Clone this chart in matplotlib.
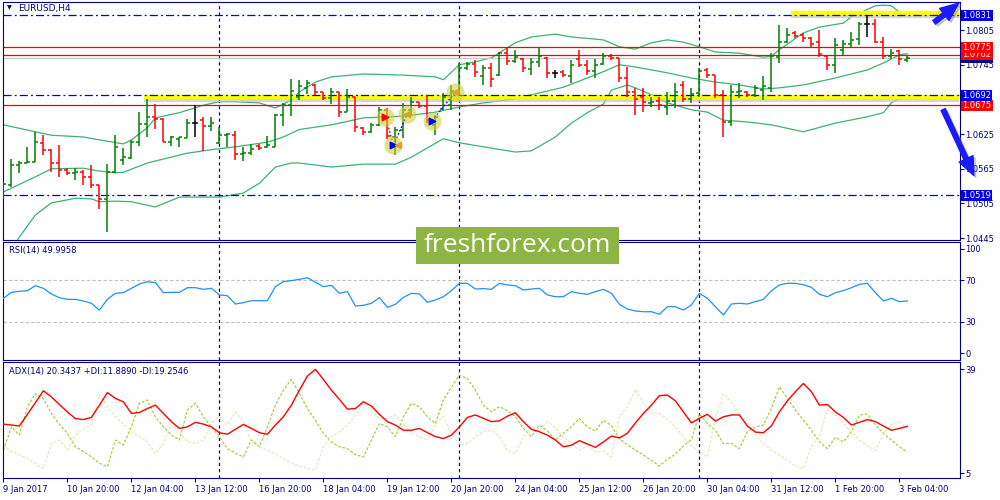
import matplotlib
matplotlib.use('Agg')
import matplotlib.pyplot as plt
from matplotlib.patches import Rectangle, FancyArrowPatch
import numpy as np

plt.rcParams['font.family'] = ['DejaVu Sans']

NAVY = '#000080'
UP = '#008000'
DOWN = '#ff0000'
BAND = '#3cb371'

# EURUSD H4, 9 Jan 12:00 .. 3 Feb 08:00 (114 bars)
opens = np.array([
    1.0520, 1.0537, 1.0572, 1.0575, 1.0577, 1.0610, 1.0597, 1.0575, 1.0563, 1.0558,
    1.0560, 1.0551, 1.0537, 1.0513, 1.0560, 1.0581, 1.0584, 1.0611, 1.0642, 1.0655,
    1.0651, 1.0611, 1.0617, 1.0618, 1.0644, 1.0650, 1.0639, 1.0610, 1.0623, 1.0623,
    1.0591, 1.0592, 1.0604, 1.0603, 1.0603, 1.0658, 1.0675, 1.0690, 1.0705, 1.0710,
    1.0697, 1.0688, 1.0697, 1.0664, 1.0690, 1.0636, 1.0628, 1.0640, 1.0667, 1.0620,
    1.0632, 1.0667, 1.0680, 1.0673, 1.0640, 1.0668, 1.0675, 1.0700, 1.0740, 1.0746,
    1.0725, 1.0740, 1.0728, 1.0765, 1.0752, 1.0755, 1.0738, 1.0750, 1.0757, 1.0730,
    1.0732, 1.0725, 1.0755, 1.0745, 1.0735, 1.0747, 1.0760, 1.0756, 1.0722, 1.0698,
    1.0690, 1.0678, 1.0683, 1.0672, 1.0683, 1.0710, 1.0685, 1.0696, 1.0736, 1.0727,
    1.0693, 1.0646, 1.0697, 1.0698, 1.0692, 1.0702, 1.0705, 1.0758, 1.0785, 1.0800,
    1.0797, 1.0792, 1.0785, 1.0760, 1.0745, 1.0770, 1.0780, 1.0789, 1.0815, 1.0815,
    1.0785, 1.0760, 1.0768, 1.0754])
highs = np.array([
    1.0542, 1.0582, 1.0578, 1.0603, 1.0629, 1.0623, 1.0599, 1.0606, 1.0566, 1.0566,
    1.0563, 1.0572, 1.0537, 1.0573, 1.0623, 1.0601, 1.0615, 1.0663, 1.0686, 1.0677,
    1.0653, 1.0622, 1.0620, 1.0651, 1.0675, 1.0655, 1.0655, 1.0637, 1.0627, 1.0630,
    1.0603, 1.0608, 1.0608, 1.0622, 1.0660, 1.0679, 1.0720, 1.0719, 1.0719, 1.0712,
    1.0698, 1.0705, 1.0698, 1.0703, 1.0690, 1.0637, 1.0644, 1.0672, 1.0670, 1.0637,
    1.0679, 1.0689, 1.0681, 1.0693, 1.0658, 1.0696, 1.0710, 1.0748, 1.0750, 1.0753,
    1.0745, 1.0748, 1.0767, 1.0774, 1.0770, 1.0757, 1.0757, 1.0776, 1.0758, 1.0736,
    1.0736, 1.0753, 1.0770, 1.0753, 1.0755, 1.0765, 1.0764, 1.0757, 1.0741, 1.0705,
    1.0705, 1.0689, 1.0689, 1.0698, 1.0713, 1.0717, 1.0705, 1.0739, 1.0739, 1.0727,
    1.0701, 1.0710, 1.0713, 1.0700, 1.0710, 1.0726, 1.0765, 1.0814, 1.0809, 1.0803,
    1.0800, 1.0793, 1.0805, 1.0762, 1.0791, 1.0788, 1.0802, 1.0819, 1.0831, 1.0824,
    1.0793, 1.0772, 1.0770, 1.0760])
lows = np.array([
    1.0513, 1.0533, 1.0558, 1.0575, 1.0577, 1.0589, 1.0559, 1.0551, 1.0554, 1.0546,
    1.0537, 1.0532, 1.0495, 1.0456, 1.0558, 1.0572, 1.0582, 1.0604, 1.0620, 1.0634,
    1.0611, 1.0604, 1.0603, 1.0618, 1.0620, 1.0596, 1.0630, 1.0608, 1.0603, 1.0580,
    1.0578, 1.0589, 1.0597, 1.0601, 1.0603, 1.0639, 1.0656, 1.0684, 1.0694, 1.0692,
    1.0684, 1.0677, 1.0655, 1.0663, 1.0629, 1.0624, 1.0627, 1.0639, 1.0617, 1.0589,
    1.0618, 1.0658, 1.0670, 1.0644, 1.0623, 1.0667, 1.0667, 1.0693, 1.0736, 1.0724,
    1.0710, 1.0707, 1.0726, 1.0745, 1.0748, 1.0732, 1.0727, 1.0741, 1.0722, 1.0722,
    1.0724, 1.0713, 1.0741, 1.0727, 1.0722, 1.0745, 1.0753, 1.0715, 1.0689, 1.0658,
    1.0663, 1.0672, 1.0667, 1.0658, 1.0670, 1.0681, 1.0679, 1.0689, 1.0722, 1.0687,
    1.0620, 1.0639, 1.0687, 1.0689, 1.0689, 1.0684, 1.0698, 1.0748, 1.0783, 1.0791,
    1.0784, 1.0776, 1.0758, 1.0736, 1.0731, 1.0762, 1.0776, 1.0779, 1.0793, 1.0783,
    1.0755, 1.0755, 1.0745, 1.0750])
closes = np.array([
    1.0539, 1.0572, 1.0575, 1.0577, 1.0611, 1.0597, 1.0575, 1.0563, 1.0558, 1.0560,
    1.0551, 1.0537, 1.0513, 1.0560, 1.0603, 1.0585, 1.0611, 1.0642, 1.0655, 1.0651,
    1.0611, 1.0620, 1.0620, 1.0644, 1.0644, 1.0639, 1.0644, 1.0623, 1.0625, 1.0591,
    1.0593, 1.0599, 1.0601, 1.0606, 1.0658, 1.0675, 1.0700, 1.0708, 1.0714, 1.0697,
    1.0688, 1.0697, 1.0664, 1.0690, 1.0637, 1.0628, 1.0640, 1.0667, 1.0622, 1.0632,
    1.0667, 1.0680, 1.0673, 1.0650, 1.0655, 1.0690, 1.0700, 1.0740, 1.0746, 1.0733,
    1.0740, 1.0720, 1.0765, 1.0752, 1.0759, 1.0740, 1.0750, 1.0760, 1.0730, 1.0730,
    1.0727, 1.0745, 1.0745, 1.0735, 1.0745, 1.0760, 1.0756, 1.0722, 1.0698, 1.0686,
    1.0680, 1.0681, 1.0675, 1.0683, 1.0697, 1.0685, 1.0695, 1.0734, 1.0727, 1.0693,
    1.0646, 1.0697, 1.0700, 1.0693, 1.0704, 1.0708, 1.0760, 1.0785, 1.0796, 1.0794,
    1.0791, 1.0780, 1.0764, 1.0745, 1.0779, 1.0780, 1.0788, 1.0815, 1.0815, 1.0785,
    1.0760, 1.0766, 1.0755, 1.0757])

# Bollinger bands
bb_up_idx = [0, 4, 6, 10, 12, 15, 16, 18, 19, 22, 25, 27, 29, 32, 34, 36, 37, 39, 41, 45,
             50, 54, 55, 57, 59, 61, 64, 66, 69, 71, 75, 77, 79, 81, 83, 85, 87, 89, 92, 95,
             96, 97, 100, 102, 105, 106, 109, 110, 111, 112, 113]
bb_up = [1.0641, 1.0629, 1.0623, 1.0620, 1.0615, 1.0608, 1.0615, 1.0636, 1.0653, 1.0662,
         1.0675, 1.0681, 1.0681, 1.0679, 1.0670, 1.0684, 1.0698, 1.0715, 1.0724, 1.0729,
         1.0727, 1.0724, 1.0719, 1.0745, 1.0750, 1.0757, 1.0783, 1.0793, 1.0798, 1.0793,
         1.0788, 1.0776, 1.0772, 1.0783, 1.0788, 1.0784, 1.0776, 1.0767, 1.0765, 1.0758,
         1.0760, 1.0771, 1.0800, 1.0810, 1.0817, 1.0828, 1.0847, 1.0848, 1.0847, 1.0836,
         1.0835]
bb_mid_idx = [0, 4, 6, 10, 12, 14, 15, 18, 23, 26, 29, 33, 35, 37, 41, 45, 50, 54, 57, 60,
              63, 66, 70, 75, 77, 79, 83, 86, 89, 92, 95, 97, 100, 104, 108, 110, 112, 113]
bb_mid = [1.0525, 1.0551, 1.0565, 1.0566, 1.0561, 1.0558, 1.0559, 1.0575, 1.0592, 1.0598,
          1.0603, 1.0611, 1.0620, 1.0633, 1.0641, 1.0653, 1.0656, 1.0663, 1.0672, 1.0679,
          1.0684, 1.0693, 1.0706, 1.0733, 1.0745, 1.0741, 1.0731, 1.0722, 1.0715, 1.0710,
          1.0703, 1.0705, 1.0710, 1.0722, 1.0736, 1.0748, 1.0762, 1.0764]
bb_low_idx = [1, 2, 4, 6, 9, 11, 12, 14, 16, 19, 22, 27, 30, 32, 34, 36, 37, 41, 45, 49,
              51, 55, 57, 60, 64, 66, 69, 71, 73, 75, 76, 78, 79, 81, 83, 86, 88, 90, 93, 96,
              100, 104, 108, 110, 111, 112, 113]
bb_low = [1.0426, 1.0447, 1.0485, 1.0506, 1.0514, 1.0513, 1.0508, 1.0509, 1.0508, 1.0499,
          1.0516, 1.0516, 1.0523, 1.0540, 1.0568, 1.0575, 1.0575, 1.0568, 1.0573, 1.0573,
          1.0585, 1.0617, 1.0610, 1.0603, 1.0594, 1.0596, 1.0620, 1.0644, 1.0662, 1.0677,
          1.0701, 1.0710, 1.0705, 1.0693, 1.0679, 1.0667, 1.0663, 1.0649, 1.0646, 1.0641,
          1.0629, 1.0644, 1.0655, 1.0662, 1.0679, 1.0687, 1.0693]

rsi = [52.6, 58.3, 59.3, 59.9, 64.7, 62.2, 56.7, 53.2, 51.6, 51.6,
       50.0, 47.8, 41.3, 51.6, 57.4, 58.0, 62.2, 66.3, 68.6, 67.7,
       58.0, 58.3, 58.3, 62.8, 62.8, 61.2, 62.2, 55.8, 55.1, 47.1,
       48.4, 50.3, 50.3, 50.3, 63.8, 68.6, 69.6, 70.8, 72.4, 68.0,
       63.8, 65.1, 57.4, 59.0, 45.2, 45.8, 47.8, 53.2, 43.9, 46.8,
       53.5, 57.4, 56.7, 48.7, 51.0, 54.1, 59.9, 67.0, 67.0, 61.5,
       61.9, 61.2, 67.0, 65.4, 64.7, 60.6, 61.5, 62.2, 55.8, 54.1,
       54.1, 59.0, 57.4, 56.4, 59.0, 61.2, 57.4, 46.8, 42.3, 40.4,
       39.7, 39.7, 37.2, 44.5, 44.5, 41.3, 46.2, 57.4, 52.6, 44.5,
       36.5, 47.1, 47.8, 47.1, 49.4, 51.6, 59.9, 65.4, 67.0, 67.0,
       65.7, 63.1, 56.4, 54.1, 58.0, 59.9, 62.8, 66.0, 67.0, 58.0,
       50.0, 52.6, 49.4, 50.0]

adx = [21.0, 20.7, 20.4, 24.2, 28.0, 31.9, 29.9, 27.4, 25.0, 22.8,
       22.5, 23.2, 27.2, 31.3, 29.4, 28.3, 24.5, 24.8, 26.1, 27.2,
       24.5, 21.8, 19.6, 20.1, 21.6, 21.0, 20.1, 18.2, 17.7, 19.3,
       20.9, 19.6, 18.2, 17.7, 20.7, 23.4, 27.2, 32.1, 36.7, 38.9,
       35.6, 32.1, 29.1, 25.9, 26.1, 28.3, 26.9, 24.2, 21.8, 20.7,
       19.0, 19.0, 19.6, 18.2, 16.9, 16.3, 17.4, 20.1, 23.2, 24.0,
       22.9, 21.8, 22.1, 23.6, 24.7, 21.8, 19.3, 18.5, 17.4, 15.8,
       13.6, 14.1, 15.6, 14.5, 13.4, 15.2, 17.1, 16.5, 18.0, 21.4,
       24.5, 27.2, 30.3, 30.5, 28.6, 25.0, 21.4, 22.9, 24.2, 22.0,
       23.4, 24.0, 24.0, 20.4, 18.4, 18.2, 20.4, 25.0, 28.6, 31.6,
       34.3, 31.6, 27.2, 27.4, 25.0, 23.2, 20.7, 21.6, 22.5, 21.8,
       20.4, 19.0, 19.6, 20.3]
plus_di = [12.5, 20.1, 17.4, 26.7, 31.0, 29.4, 24.5, 21.0, 18.0, 13.6,
           12.0, 10.3, 8.2, 7.1, 15.8, 14.2, 20.1, 27.8, 28.9, 23.4,
           20.1, 17.4, 15.8, 25.6, 27.8, 23.4, 20.1, 16.9, 13.0, 11.5,
           10.3, 15.8, 13.6, 20.1, 27.2, 32.1, 35.6, 31.0, 26.1, 22.3,
           18.0, 15.2, 13.6, 13.0, 11.0, 10.3, 15.8, 21.2, 20.1, 16.9,
           23.4, 27.8, 26.7, 23.4, 21.2, 29.0, 33.0, 37.0, 35.9, 32.1,
           27.2, 25.0, 26.7, 25.4, 23.4, 19.6, 16.9, 20.7, 18.8, 15.8,
           18.0, 20.1, 22.9, 20.1, 18.7, 22.3, 20.5, 16.3, 14.2, 12.5,
           10.9, 9.2, 7.3, 9.5, 11.2, 13.8, 16.0, 24.3, 21.2, 19.0,
           14.7, 14.7, 13.0, 18.5, 20.1, 20.7, 26.1, 33.2, 29.4, 25.6,
           22.3, 19.0, 15.2, 13.0, 16.7, 15.2, 18.5, 24.0, 24.3, 20.7,
           18.0, 15.8, 13.6, 11.9]
minus_di = [14.2, 12.0, 11.0, 9.8, 8.0, 6.5, 14.7, 15.8, 12.7, 17.4,
            19.6, 20.7, 30.5, 26.7, 23.4, 21.0, 18.5, 17.0, 15.2, 11.4,
            14.7, 21.2, 18.5, 15.2, 14.7, 15.8, 21.2, 23.4, 20.7, 25.0,
            21.8, 15.2, 13.6, 12.5, 11.4, 9.8, 8.2, 7.3, 6.5, 6.0,
            13.6, 16.9, 18.5, 20.7, 24.0, 27.8, 25.6, 22.9, 22.9, 24.0,
            21.2, 18.0, 16.9, 15.8, 20.7, 23.5, 18.0, 14.2, 14.7, 16.9,
            18.5, 19.0, 17.0, 12.3, 11.4, 16.9, 20.1, 18.8, 21.8, 19.8,
            16.7, 14.7, 12.5, 13.8, 12.0, 12.3, 10.3, 23.4, 26.7, 32.4,
            27.8, 24.5, 24.5, 22.5, 20.1, 16.9, 13.9, 12.0, 10.3, 23.4,
            31.0, 28.1, 24.5, 20.1, 17.4, 14.7, 12.5, 10.9, 9.2, 7.3,
            6.5, 13.8, 16.7, 25.6, 24.0, 21.2, 18.5, 15.8, 13.8, 12.5,
            17.7, 21.0, 21.8, 19.3]

tick_idx = list(range(0, 113, 8))
tick_labels = ['9 Jan 2017', '10 Jan 20:00', '12 Jan 04:00', '13 Jan 12:00', '16 Jan 20:00',
               '18 Jan 04:00', '19 Jan 12:00', '20 Jan 20:00', '24 Jan 04:00', '25 Jan 12:00',
               '26 Jan 20:00', '30 Jan 04:00', '31 Jan 12:00', '1 Feb 20:00', '3 Feb 04:00']
week_starts = [27, 57, 87]

dashdot_levels = [1.0831, 1.0692, 1.0519]
red_levels = [1.0775, 1.0762, 1.0675]
bid = 1.0757
price_ticks = [1.0445, 1.0505, 1.0565, 1.0625, 1.0745, 1.0805]

# analyst marks: yellow zones (start bar, end bar, price)
zones = [(98.4, 119.4, 1.0834), (17.6, 119.4, 1.0689)]
# trades: bar position, price
trade_x = [47.75, 48.75, 50.5, 53.6, 56.5]
trade_p = [1.0655, 1.0606, 1.0660, 1.0648, 1.0698]

fig = plt.figure(figsize=(10, 5), dpi=100)
ax1 = fig.add_axes([0.003, 0.520, 0.957, 0.476])
ax2 = fig.add_axes([0.003, 0.280, 0.957, 0.236])
ax3 = fig.add_axes([0.003, 0.044, 0.957, 0.232])

xlim = (-0.05, 119.575)
for ax in (ax1, ax2, ax3):
    ax.set_xlim(*xlim)
    for s in ax.spines.values():
        s.set_color(NAVY)
        s.set_linewidth(0.8)
    ax.tick_params(axis='y', left=False, labelleft=False, right=True, labelright=True,
                   direction='out', length=3, width=0.8, color=NAVY, labelcolor=NAVY,
                   labelsize=6, pad=1)
    for w in week_starts:
        ax.axvline(w, color=NAVY, lw=0.9, ls=(0, (2.5, 2.5)), zorder=1)

# ---- price panel
ax1.set_ylim(1.04418, 1.08535)
ax1.set_xticks([])
ax1.set_yticks(price_ticks, ['%.4f' % p for p in price_ticks])

x = np.arange(len(opens))
colors = np.where(closes > opens, UP, np.where(closes < opens, DOWN, 'black'))

ax1.plot(bb_up_idx, bb_up, color=BAND, lw=0.9, zorder=2)
ax1.plot(bb_mid_idx, bb_mid, color=BAND, lw=0.9, zorder=2)
ax1.plot(bb_low_idx, bb_low, color=BAND, lw=0.9, zorder=2)

for x0, x1, p in zones:
    ax1.plot([x0, x1], [p - 0.00055, p - 0.00055], color='#c4c4c4', lw=3, alpha=0.7,
             solid_capstyle='butt', zorder=2)
    ax1.plot([x0, x1], [p, p], color='#ffff00', lw=3.2, solid_capstyle='butt', zorder=2.1)

for p in red_levels:
    ax1.axhline(p, color='#ff0000', lw=0.9, zorder=2.2)
ax1.axhline(bid, color='#c8c8c8', lw=0.9, zorder=2.2)
for p in dashdot_levels:
    ax1.axhline(p, color='#0000e0', lw=0.9, ls=(0, (6.5, 2.5, 1.5, 2.5)), zorder=2.3)

ax1.vlines(x, lows, highs, colors=colors, lw=1.1, zorder=3)
ax1.hlines(opens, x - 0.38, x, colors=colors, lw=1.1, zorder=3)
ax1.hlines(closes, x, x + 0.38, colors=colors, lw=1.1, zorder=3)

ax1.plot(trade_x[:2], trade_p[:2], color='red', lw=0.9, ls=(0, (1.5, 1.5)), zorder=3.5)
ax1.plot([trade_x[1], trade_x[2]], [trade_p[1], trade_p[2]], color='blue', lw=0.9,
         ls=(0, (1.5, 1.5)), zorder=3.5)
ax1.plot(trade_x[3:], trade_p[3:], color='blue', lw=0.9, ls=(0, (1.5, 1.5)), zorder=3.5)
ax1.scatter(trade_x, trade_p, s=170, color='#cfcf3a', alpha=0.6, lw=0, zorder=4)
ax1.scatter([trade_x[0]], [trade_p[0]], s=22, marker='>', color='red', zorder=5)
ax1.scatter([trade_x[1], trade_x[3]], [trade_p[1], trade_p[3]], s=22, marker='>',
            color='blue', zorder=5)
ax1.scatter([trade_x[1] + 0.6, trade_x[2], trade_x[4]], [trade_p[1], trade_p[2], trade_p[4]],
            s=18, marker='<', color='#daa520', zorder=5)

ax1.text(0.004, 0.985, '\u25bc', transform=ax1.transAxes, fontsize=4.5, color=NAVY,
         va='top', ha='left')
ax1.text(0.016, 0.99, 'EURUSD,H4', transform=ax1.transAxes, fontsize=6.5, color=NAVY,
         va='top', ha='left')

label_boxes = [(bid, '#000080'), (1.0762, '#ff0000'), (1.0775, '#ff0000'),
               (1.0675, '#ff0000'), (1.0692, '#0000e0'), (1.0831, '#0000e0'),
               (1.0519, '#0000e0')]
for k, (p, c) in enumerate(label_boxes):
    ax1.text(1.0025, p, '%.4f' % p, transform=ax1.get_yaxis_transform(), ha='left',
             va='center', fontsize=6, color='white', clip_on=False, zorder=6 + k,
             bbox=dict(boxstyle='square,pad=0.12', fc=c, ec='none'))

# ---- RSI panel
ax2.set_ylim(-6.7, 106.7)
ax2.set_xticks([])
ax2.set_yticks([0, 30, 70, 100])
for lv in (30, 70):
    ax2.axhline(lv, color='#c0c0c0', lw=0.8, ls=(0, (3, 2)), zorder=1)
ax2.plot(x, rsi, color='#1e90ff', lw=0.9, zorder=3)
ax2.text(0.006, 0.965, 'RSI(14) 49.9958', transform=ax2.transAxes, fontsize=6,
         color=NAVY, va='top', ha='left')

# ---- ADX panel
ax3.set_ylim(3.4, 41.3)
ax3.set_yticks([5, 39])
ax3.plot(x, plus_di, color='#9acd32', lw=0.8, ls=(0, (2.5, 1.5)), zorder=2)
ax3.plot(x, minus_di, color='#f5deb3', lw=0.8, ls=(0, (2.5, 1.5)), zorder=2)
ax3.plot(x, adx, color='#ff0000', lw=1.0, zorder=3)
ax3.text(0.006, 0.955, 'ADX(14) 20.3437 +DI:11.8890 -DI:19.2546', transform=ax3.transAxes,
         fontsize=6, color=NAVY, va='top', ha='left')
ax3.set_xticks(tick_idx, tick_labels)
ax3.tick_params(axis='x', direction='out', length=3, width=0.8, color=NAVY,
                labelcolor=NAVY, labelsize=6, pad=2)
for lab in ax3.get_xticklabels():
    lab.set_ha('left')

# ---- watermark
fig.add_artist(Rectangle((0.416, 0.472), 0.203, 0.074, transform=fig.transFigure,
                         fc='#8db543', ec='none', zorder=10))
fig.text(0.5175, 0.508, 'freshforex.com', fontsize=19, color='white', family='Open Sans',
         ha='center', va='center', zorder=11)

# ---- blue arrows
for (p0, p1) in [((0.932, 0.952), (0.961, 0.997)), ((0.942, 0.786), (0.975, 0.644))]:
    sh = FancyArrowPatch((p0[0] + 0.002, p0[1] - 0.004), (p1[0] + 0.002, p1[1] - 0.004),
                         transform=fig.transFigure, color='#808080', alpha=0.35,
                         arrowstyle='simple,tail_width=0.3,head_width=1.0,head_length=1.2',
                         mutation_scale=11, zorder=11)
    fig.add_artist(sh)
    ar = FancyArrowPatch(p0, p1, transform=fig.transFigure, color='#1a1aff',
                         arrowstyle='simple,tail_width=0.3,head_width=1.0,head_length=1.2',
                         mutation_scale=11, zorder=12)
    fig.add_artist(ar)

fig.savefig('out.png', dpi=100)
